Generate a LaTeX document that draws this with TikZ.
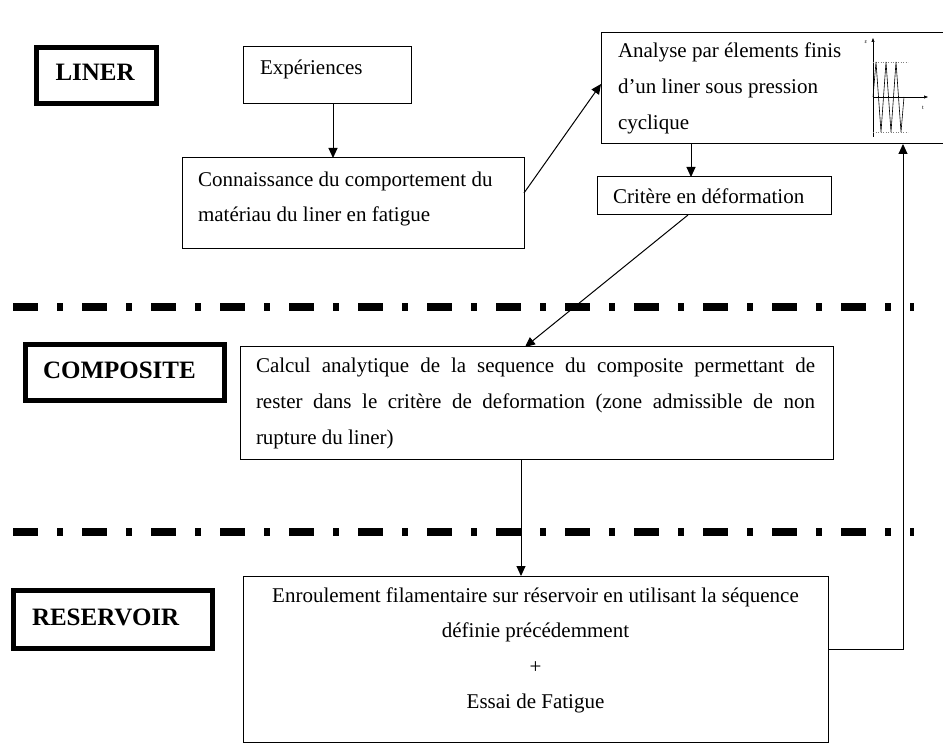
\documentclass[tikz,border=0pt]{standalone}
\usepackage{fontspec}
\setmainfont{Liberation Serif}
\usetikzlibrary{arrows.meta}
\begin{document}
\begin{tikzpicture}[x=1pt,y=-1pt,
  box/.style={draw, line width=1pt, inner sep=0pt, outer sep=0pt, anchor=north west,
              font=\fontsize{21}{36}\selectfont},
  lab/.style={draw, line width=5pt, inner sep=0pt, outer sep=0pt, anchor=north west,
              font=\fontsize{25}{30}\selectfont\bfseries},
  arr/.style={line width=1pt, -{Triangle[length=10pt,width=9pt]}},
  sepline/.style={line width=8pt, dash pattern=on 25pt off 19pt on 6pt off 19pt},
  axis/.style={line width=0.6pt, -{Triangle[length=4pt,width=3pt]}},
  tiny/.style={inner sep=0pt, font=\fontsize{6}{7}\selectfont}]
\useasboundingbox (0,0) rectangle (943,751);

% section labels
\node[lab] (liner) at (36.5,47.5) {\parbox[t][56pt][t]{120pt}{\rule{0pt}{33.5pt}\hspace*{19pt}LINER}};
\node[lab] (complab) at (25.5,344.5) {\parbox[t][56pt][t]{199pt}{\rule{0pt}{34.5pt}\hspace*{17.5pt}COMPOSITE}};
\node[lab] (reslab) at (13.5,590.5) {\parbox[t][58pt][t]{199pt}{\rule{0pt}{34.5pt}\hspace*{18.5pt}RESERVOIR}};

% boxes
\node[box] (exp) at (243,47) {\parbox[t][57pt][t]{168pt}{\rule{0pt}{28pt}\hspace*{17pt}Expériences}};
\node[box] (conn) at (182,158) {\parbox[t][91pt][t]{342pt}{\fontsize{21}{35}\selectfont\raggedright\leftskip=16pt\rule{0pt}{29pt}Connaissance du comportement du\\matériau du liner en fatigue}};
\node[box] (ana) at (601,33) {\parbox[t][111pt][t]{343pt}{\raggedright\leftskip=17pt\rule{0pt}{25pt}Analyse par élements finis\\d’un liner sous pression\\cyclique}};
\node[box] (crit) at (597,177) {\parbox[t][38pt][t]{234pt}{\rule{0pt}{27pt}\hspace*{16pt}Critère en déformation}};
\node[box] (comp) at (240,347) {\parbox[t][112pt][t]{593pt}{\leftskip=16pt\rightskip=18pt\rule{0pt}{26pt}Calcul analytique de la sequence du composite permettant de\linebreak rester dans le critère de deformation (zone admissible de non\linebreak rupture du liner)}};
\node[box] (res) at (243,576) {\parbox[t][166pt][t]{585pt}{\fontsize{21}{35.5}\selectfont\centering\rule{0pt}{26pt}Enroulement filamentaire sur réservoir en utilisant la séquence\\définie précédemment\\+\\Essai de Fatigue}};

% separators
\coordinate (s1a) at (13,307); \coordinate (s1b) at (914,307);
\coordinate (s2a) at (13,532); \coordinate (s2b) at (914,532);
\draw[sepline] (s1a) -- (s1b);
\draw[sepline] (s2a) -- (s2b);

% small graph inside the analysis box
\draw[axis] (873,137) -- (873,38);
\draw[axis] (873,97) -- (928,97);
\draw[line width=0.5pt, dotted, gray] (873,62) -- (908,62);
\draw[line width=0.5pt, dotted, gray] (873,132) -- (908,132);
\draw[line width=0.6pt] (873,97) -- (876,62) -- (881,132) -- (886,62) -- (891,132) -- (896,62) -- (901,132) -- (904,97);
\node[tiny] (geps) at (866,42) {ε};
\node[tiny] (gt) at (923,108) {t};

% connectors
\draw[arr] ([xshift=6pt]exp.south) -- ([xshift=6pt]exp.south |- conn.north);
\draw[arr] ([yshift=10.5pt]conn.east) -- ([yshift=4.5pt]ana.west);
\draw[arr] ([xshift=-23pt]crit.north |- ana.south) -- ([xshift=-23pt]crit.north);
\draw[arr] ([xshift=-26pt]crit.south) -- ([xshift=-11.5pt]comp.north);
\draw[arr] ([xshift=-15.5pt]comp.south) -- ([xshift=-15.5pt]comp.south |- res.north);
\draw[arr] ([yshift=10pt]res.east) -| ([xshift=130.5pt]ana.south);
\end{tikzpicture}
\end{document}
